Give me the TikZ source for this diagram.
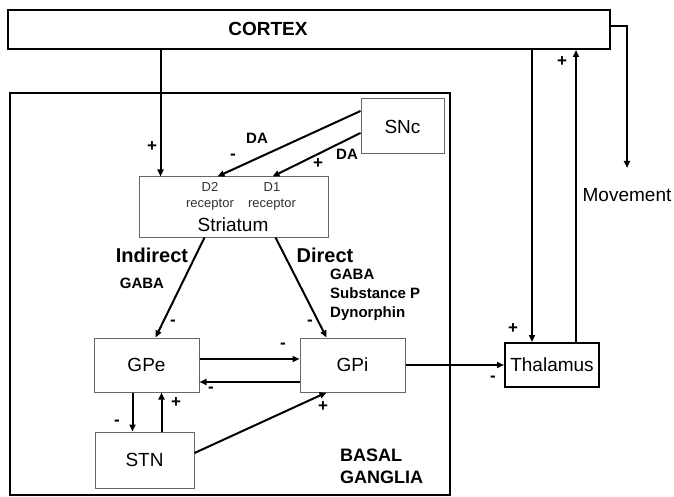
\documentclass[tikz,border=0pt]{standalone}
\usepackage{fontspec}
\setmainfont{Liberation Sans}
\usetikzlibrary{arrows.meta,calc,positioning}

\begin{document}
\begin{tikzpicture}[
  x=1pt,
  y=-1pt,
  bigbox/.style={draw=black,line width=2pt,inner sep=0pt},
  region/.style={
    draw=black!60,
    line width=1pt,
    fill=white,
    inner sep=0pt,
    font=\fontsize{19}{21}\selectfont
  },
  conn/.style={line width=2pt,-{Triangle[length=7pt,width=6pt]}},
  plainline/.style={line width=2pt},
  sign/.style={font=\bfseries\fontsize{17}{17}\selectfont,inner sep=0pt},
  chem/.style={
    font=\bfseries\fontsize{15}{19}\selectfont,
    inner sep=0pt,
    align=left
  },
  pathname/.style={font=\bfseries\fontsize{20}{22}\selectfont,inner sep=0pt},
  receptor/.style={
    font=\fontsize{13}{16}\selectfont,
    text=black!80,
    inner sep=0pt,
    align=center
  }
]
\useasboundingbox (0,0) rectangle (674,497);

% Basal ganglia frame
\draw[bigbox] (10,93) rectangle (450,495);
\node[chem,font=\bfseries\fontsize{18}{22}\selectfont,anchor=west]
  (bglabel) at (340,466) {BASAL\\GANGLIA};

% Cortex
\node[bigbox,minimum width=602,minimum height=39] (cortex) at (309,29.5) {};
\node[font=\bfseries\fontsize{19}{21}\selectfont,inner sep=0pt]
  (cortexlabel) at (268,29) {CORTEX};

% Boxes
\node[region,minimum width=83,minimum height=55] (snc) at (402.5,126.5) {SNc};
\node[region,minimum width=189,minimum height=60] (str) at (233.5,207) {};
\node[region,minimum width=105,minimum height=54] (gpe) at (146.5,365) {GPe};
\node[region,minimum width=105,minimum height=54] (gpi) at (352.5,365) {GPi};
\node[region,minimum width=99,minimum height=56] (stn) at (144.5,460) {STN};
\node[bigbox,font=\fontsize{19}{21}\selectfont,
  minimum width=94,minimum height=44] (thal) at (552,365) {Thalamus};

% Striatum texts
\node[receptor] (d2) at (210,196) {D2\\receptor};
\node[receptor] (d1) at (272,196) {D1\\receptor};
\node[font=\fontsize{19}{21}\selectfont,inner sep=0pt]
  (strlabel) at (233,225) {Striatum};

% Attachment points
\coordinate (ctxin) at ($(str.north west)+(22,0)$);
\coordinate (d2in) at ($(str.north west)+(79,0)$);
\coordinate (d1in) at ($(str.north west)+(134,0)$);
\coordinate (indout) at ($(str.south west)+(66,0)$);
\coordinate (dirout) at ($(str.south west)+(137,0)$);
\coordinate (gpein) at ($(gpe.north west)+(62,0)$);
\coordinate (gpiin) at ($(gpi.north west)+(27,0)$);
\coordinate (gpistn) at ($(gpi.south west)+(27,0)$);
\coordinate (gpedown) at ($(gpe.south west)+(39,0)$);
\coordinate (gpeup) at ($(gpe.south west)+(68,0)$);
\coordinate (thalin) at ($(thal.north west)+(28,0)$);
\coordinate (thalout) at ($(thal.north west)+(72,0)$);
\coordinate (moveturn) at (627,26);
\coordinate (move) at (627,168);

% Cortex and SNc to striatum
\draw[conn] (cortex.south -| ctxin) -- (ctxin);
\draw[conn] ($(snc.west)+(0,-15.5)$) -- (d2in);
\draw[conn] ($(snc.west)+(0,6.5)$) -- (d1in);

% Striatum outputs
\draw[conn] (indout) -- (gpein);
\draw[conn] (dirout) -- (gpiin);

% GPe / GPi / STN loops
\draw[conn] ($(gpe.east)+(0,-6)$) -- ($(gpi.west)+(0,-6)$);
\draw[conn] ($(gpi.west)+(0,17)$) -- ($(gpe.east)+(0,17)$);
\draw[conn] (gpedown) -- (gpedown |- stn.north);
\draw[conn] (gpeup |- stn.north) -- (gpeup);
\draw[conn] ($(stn.east)+(0,-7)$) -- (gpistn);

% Thalamus
\draw[conn] (gpi.east) -- (thal.west);
\draw[conn] (cortex.south -| thalin) -- (thalin);
\draw[conn] (thalout) -- (cortex.south -| thalout);
\draw[conn] (cortex.east |- moveturn) -- (moveturn) -- (move);
\node[font=\fontsize{19}{21}\selectfont,inner sep=0pt,below=20pt of move]
  (movelabel) {Movement};

% Transmitters and pathways
\node[chem] (da2) at (257,138) {DA};
\node[chem] (da1) at (347,154) {DA};
\node[pathname] (indirect) at (152,255) {Indirect};
\node[pathname] (direct) at (325,255) {Direct};
\node[chem] (gabaind) at (142,283) {GABA};
\node[chem,anchor=north west] (gabadir) at (330,269)
  {GABA\\Substance P\\Dynorphin};

% Signs
\node[sign] at (152,147) {+};
\node[sign] at (233,157) {-};
\node[sign] at (318,164) {+};
\node[sign] at (173,323) {-};
\node[sign] at (310,323) {-};
\node[sign] at (283,346) {-};
\node[sign] at (211,390) {-};
\node[sign] at (117,423) {-};
\node[sign] at (176,403) {+};
\node[sign] at (323,407) {+};
\node[sign] at (513,329) {+};
\node[sign] at (493,379) {-};
\node[sign] at (562,62) {+};

\end{tikzpicture}
\end{document}
